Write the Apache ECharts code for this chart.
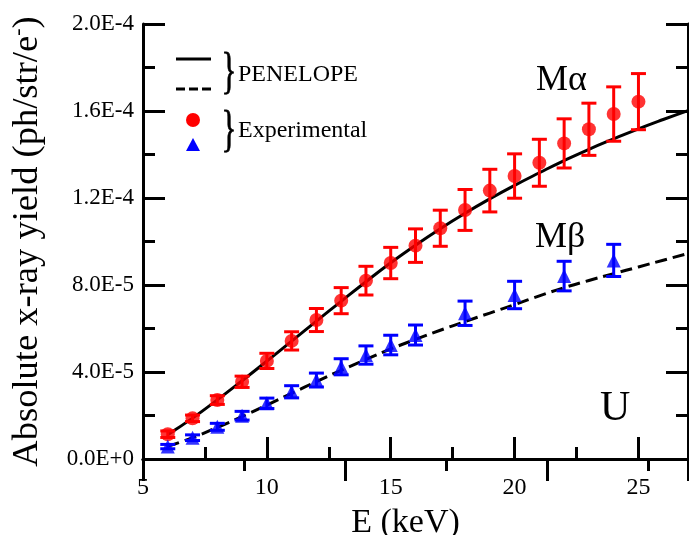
<!DOCTYPE html>
<html>
<head>
<meta charset="utf-8">
<script src="https://cdn.jsdelivr.net/npm/echarts@6/dist/echarts.min.js"></script>
<style>
  html, body { margin: 0; padding: 0; background: #fff; }
  #chart { width: 689px; height: 535px; }
</style>
</head>
<body>
<div id="chart"></div>
<script>
// measured data (yield in units of 1e-6 ph/str/e-)
const alphaE = [6, 7, 8, 9, 10, 11, 12, 13, 14, 15, 16, 17, 18, 19, 20, 21, 22, 23, 24, 25]
const alphaY = [11.4, 18.7, 27.1, 35.5, 45.1, 54.3, 63.9, 72.8, 82.0, 90.1, 98.1, 106.1, 114.5, 123.4, 130.1, 136.2, 145.1, 151.6, 158.6, 164.3]
const alphaErr = [1.5, 1.5, 2.0, 2.6, 3.5, 4.2, 5.3, 6.0, 6.6, 7.2, 7.7, 8.3, 9.4, 9.8, 10.2, 10.8, 11.3, 12.0, 12.5, 12.9]

const betaE = [6, 7, 8, 9, 10, 11, 12, 13, 14, 15, 16, 18, 20, 22, 24]
const betaY = [5.7, 9.8, 14.8, 19.9, 25.6, 30.9, 36.3, 42.4, 47.8, 52.4, 57.0, 67.0, 75.4, 84.1, 91.3]
const betaErr = [1.0, 1.3, 1.6, 2.0, 2.4, 2.8, 3.2, 3.7, 4.2, 4.5, 4.6, 5.6, 6.3, 6.8, 7.4]

// PENELOPE simulation curves
const curveE = [6, 7, 8, 9, 10, 11, 12, 13, 14, 15, 16, 17, 18, 19, 20, 21, 22, 23, 24, 25, 26, 27]
const alphaCurve = [11.2, 18.8, 27.2, 36.0, 45.0, 54.2, 63.4, 72.5, 81.5, 90.2, 98.3, 105.9, 113.0, 119.6, 125.8, 131.6, 137.2, 142.4, 147.2, 151.8, 156.1, 160.2]
const betaCurve = [5.8, 9.8, 14.5, 19.5, 24.8, 30.2, 35.6, 40.8, 45.8, 50.6, 55.0, 59.2, 63.2, 67.1, 71.0, 75.0, 78.8, 82.1, 85.2, 88.3, 91.4, 94.5]

const SCALE = 1e-6
const FONT = '"Liberation Serif", "Times New Roman", serif'

const pairs = (xs, ys) => xs.map((x, i) => [x, ys[i] * SCALE])
const bars = (xs, ys, es) => xs.map((x, i) => [x, (ys[i] - es[i]) * SCALE, (ys[i] + es[i]) * SCALE])

// error bar with caps
function renderErr(color) {
  return function(params, api) {
    const lo = api.coord([api.value(0), api.value(1)])
    const hi = api.coord([api.value(0), api.value(2)])
    const w = 7.5
    const st = { stroke: color, lineWidth: 3 }
    return {
      type: 'group',
      children: [
        { type: 'line', shape: { x1: lo[0], y1: lo[1], x2: hi[0], y2: hi[1] }, style: st },
        { type: 'line', shape: { x1: lo[0] - w, y1: lo[1], x2: lo[0] + w, y2: lo[1] }, style: st },
        { type: 'line', shape: { x1: hi[0] - w, y1: hi[1], x2: hi[0] + w, y2: hi[1] }, style: st }
      ]
    }
  }
}

const axisLine = { show: true, lineStyle: { color: '#000', width: 3 } }
const tick = { show: true, inside: true, length: 22, lineStyle: { color: '#000', width: 3 } }
const minor = { show: true, splitNumber: 2, length: 12, lineStyle: { color: '#000', width: 3 } }

const chart = echarts.init(document.getElementById('chart'))

const opt = {
  animation: false,
  backgroundColor: '#fff',
  // fixed plot box, do not let labels push it around
  grid: { left: 143, right: 1, top: 24, bottom: 76, containLabel: false, outerBoundsMode: 'none' },
  xAxis: [
    {
      type: 'value', position: 'bottom', min: 5, max: 27, interval: 5,
      axisLine: axisLine, axisTick: tick, minorTick: minor, splitLine: { show: false },
      axisLabel: {
        color: '#000', fontFamily: FONT, fontSize: 24, margin: 17,
        formatter: v => (v % 5 === 0 ? String(v) : '')
      },
      name: 'E (keV)', nameLocation: 'middle', nameGap: 47,
      nameTextStyle: { color: '#000', fontFamily: FONT, fontSize: 34, padding: [0, 20, 0, 0] }
    },
    {
      // top frame, its ticks are on another spacing
      type: 'value', position: 'top', min: 0, max: 2.698, interval: 1,
      axisLine: axisLine, axisTick: tick, minorTick: minor, splitLine: { show: false },
      axisLabel: { show: false }
    }
  ],
  yAxis: [
    {
      type: 'value', position: 'left', min: 0, max: 2e-4, interval: 4e-5,
      axisLine: axisLine, axisTick: tick, minorTick: minor, splitLine: { show: false },
      axisLabel: {
        color: '#000', fontFamily: FONT, fontSize: 23, margin: 9,
        formatter: v => v.toExponential(1).toUpperCase()
      },
      name: '{a|Absolute x-ray yield (ph/str/e}{s|-}{a|)}',
      nameLocation: 'middle', nameGap: 96, nameRotate: 90,
      nameTextStyle: {
        rich: {
          a: { color: '#000', fontFamily: FONT, fontSize: 36.5, lineHeight: 40 },
          s: { color: '#000', fontFamily: FONT, fontSize: 22, lineHeight: 40, verticalAlign: 'top' }
        }
      }
    },
    {
      type: 'value', position: 'right', min: 0, max: 2e-4, interval: 4e-5,
      axisLine: axisLine, axisTick: tick, minorTick: minor, splitLine: { show: false },
      axisLabel: { show: false }
    }
  ],
  series: [
    {
      name: 'PENELOPE Ma', type: 'line', smooth: true, showSymbol: false, z: 2,
      data: pairs(curveE, alphaCurve),
      lineStyle: { color: '#000', width: 3 }
    },
    {
      name: 'PENELOPE Mb', type: 'line', smooth: true, showSymbol: false, z: 2,
      data: pairs(curveE, betaCurve),
      lineStyle: { color: '#000', width: 3, type: [12, 6] }
    },
    {
      type: 'custom', z: 3, renderItem: renderErr('#ff0000'),
      encode: { x: 0, y: [1, 2] }, data: bars(alphaE, alphaY, alphaErr)
    },
    {
      type: 'custom', z: 3, renderItem: renderErr('#0000ff'),
      encode: { x: 0, y: [1, 2] }, data: bars(betaE, betaY, betaErr)
    },
    {
      name: 'Ma', type: 'scatter', z: 4, symbol: 'circle', symbolSize: 14,
      itemStyle: { color: '#ff0000' }, data: pairs(alphaE, alphaY)
    },
    {
      name: 'Mb', type: 'scatter', z: 4, symbol: 'triangle', symbolSize: 14,
      itemStyle: { color: '#0000ff' }, data: pairs(betaE, betaY)
    }
  ],
  graphic: [
    // legend keys
    { type: 'line', shape: { x1: 176, y1: 59, x2: 211, y2: 59 }, style: { stroke: '#000', lineWidth: 3 } },
    { type: 'line', shape: { x1: 176, y1: 89, x2: 211, y2: 89 }, style: { stroke: '#000', lineWidth: 3, lineDash: [9, 4] } },
    { type: 'circle', shape: { cx: 193, cy: 120, r: 7 }, style: { fill: '#ff0000' } },
    { type: 'polygon', shape: { points: [[193, 138], [200, 151], [186, 151]] }, style: { fill: '#0000ff' } },
    { type: 'text', x: 229, y: 74, scaleX: 0.62, style: { text: '}', font: '50px ' + FONT, fill: '#000', stroke: '#000', lineWidth: 0.8, align: 'center', verticalAlign: 'middle' } },
    { type: 'text', x: 229, y: 132, scaleX: 0.62, style: { text: '}', font: '50px ' + FONT, fill: '#000', stroke: '#000', lineWidth: 0.8, align: 'center', verticalAlign: 'middle' } },
    { type: 'text', x: 238, y: 75, style: { text: 'PENELOPE', font: '24px ' + FONT, fill: '#000', verticalAlign: 'middle' } },
    { type: 'text', x: 238, y: 131, style: { text: 'Experimental', font: '24px ' + FONT, fill: '#000', verticalAlign: 'middle' } },
    // line labels
    { type: 'text', x: 536, y: 81, style: { text: 'Mα', font: '36px ' + FONT, fill: '#000', verticalAlign: 'middle' } },
    { type: 'text', x: 535, y: 238, style: { text: 'Mβ', font: '36px ' + FONT, fill: '#000', verticalAlign: 'middle' } },
    { type: 'text', x: 600, y: 409, style: { text: 'U', font: '42px ' + FONT, fill: '#000', verticalAlign: 'middle' } }
  ]
}

chart.setOption(opt)
</script>
</body>
</html>
